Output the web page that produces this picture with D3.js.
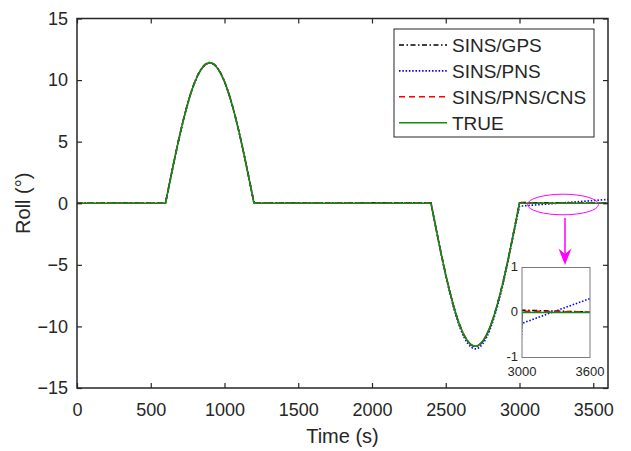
<!DOCTYPE html>
<html>
<head>
<meta charset="utf-8">
<script src="https://cdn.jsdelivr.net/npm/d3@7"></script>
<style>
  body { margin: 0; background: #fff; }
  svg text { font-family: "Liberation Sans", Arial, sans-serif; fill: #262626; }
</style>
</head>
<body>
<div id="root"></div>
<script>
// time samples (s) shared by all series
var time = [0,
  600, 650, 700, 750, 800, 850, 900, 950, 1000, 1050, 1100, 1150, 1200,
  2400, 2450, 2500, 2550, 2600, 2650, 2700, 2750, 2800, 2850, 2900, 2950, 3000,
  3600];

// roll (deg)
var trueRoll = [0,
  0, 2.95, 5.70, 8.06, 9.87, 11.01, 11.40, 11.01, 9.87, 8.06, 5.70, 2.95, 0,
  0, -3.00, -5.80, -8.20, -10.05, -11.20, -11.60, -11.20, -10.05, -8.20, -5.80, -3.00, 0,
  0];
var gpsRoll = [0.02,
  0.02, 2.97, 5.72, 8.08, 9.90, 11.03, 11.43, 11.03, 9.88, 8.07, 5.71, 2.96, 0.02,
  0.03, -2.98, -5.79, -8.20, -10.06, -11.22, -11.63, -11.22, -10.06, -8.20, -5.79, -2.97, 0.05,
  0.01];
var pnsRoll = [0,
  0, 2.90, 5.65, 8.02, 9.84, 10.98, 11.37, 10.99, 9.85, 8.05, 5.69, 2.95, 0.02,
  0.02, -3.05, -5.90, -8.33, -10.22, -11.40, -11.82, -11.42, -10.25, -8.38, -5.95, -3.10, -0.24,
  0.31];
var cnsRoll = [0.01,
  0.01, 2.96, 5.71, 8.07, 9.88, 11.02, 11.42, 11.02, 9.88, 8.07, 5.71, 2.96, 0.01,
  0.02, -2.99, -5.80, -8.21, -10.06, -11.21, -11.62, -11.21, -10.06, -8.21, -5.80, -2.99, 0.03,
  0.01];

var seriesNames = ["SINS/GPS", "SINS/PNS", "SINS/PNS/CNS", "TRUE"];
var seriesVals = [gpsRoll, pnsRoll, cnsRoll, trueRoll];
var seriesColors = ["#000000", "#0000ff", "#ff0000", "#108c10"];
var seriesDash = ["5,2.5,1.5,2.5", "1.5,1.8", "6,4", null];

var xTicks = [0, 500, 1000, 1500, 2000, 2500, 3000, 3500];
var yTicks = [-15, -10, -5, 0, 5, 10, 15];
var insetXTicks = [3000, 3600];
var insetYTicks = [-1, 0, 1];

var width = 631, height = 451;
var plotL = 77, plotR = 608, plotT = 18.5, plotB = 388;

var svg = d3.select("#root").append("svg")
  .attr("width", width)
  .attr("height", height);

var x = d3.scaleLinear().domain([0, 3600]).range([plotL, plotR]);
var y = d3.scaleLinear().domain([-15, 15]).range([plotB, plotT]);

// flat parts are straight, manoeuvres are smooth arcs
var segs = [[0, 1, "lin"], [1, 13, "nat"], [13, 14, "lin"], [14, 26, "nat"], [26, 27, "lin"]];
function pathFor(vals, xs, ys) {
  var d = "";
  segs.forEach(function(s, i) {
    var pts = d3.range(s[0], s[1] + 1).map(function(j) { return [xs(time[j]), ys(vals[j])]; });
    var p = d3.line().curve(s[2] == "nat" ? d3.curveNatural : d3.curveLinear)(pts);
    d += i == 0 ? p : "L" + p.slice(1);
  });
  return d;
}

function drawSeries(g, xs, ys) {
  seriesVals.forEach(function(v, i) {
    g.append("path")
      .attr("d", pathFor(v, xs, ys))
      .attr("fill", "none")
      .attr("stroke", seriesColors[i])
      .attr("stroke-width", 1.6)
      .attr("stroke-dasharray", seriesDash[i]);
  });
}

svg.append("clipPath").attr("id", "mainClip")
  .append("rect").attr("x", plotL).attr("y", plotT).attr("width", plotR - plotL).attr("height", plotB - plotT);
drawSeries(svg.append("g").attr("clip-path", "url(#mainClip)"), x, y);

// axes
var axisColor = "#262626";
function styleAxis(g) {
  g.select(".domain").remove();
  g.selectAll("line").attr("stroke", axisColor).attr("stroke-width", 1.2);
  g.selectAll("text").attr("font-size", 18).attr("fill", axisColor)
    .style("font-family", "'Liberation Sans', Arial, sans-serif");
}
svg.append("g").attr("transform", "translate(0," + plotB + ")")
  .call(d3.axisBottom(x).tickValues(xTicks).tickSize(-5).tickPadding(15).tickFormat(d3.format("d")))
  .call(styleAxis);
svg.append("g").attr("transform", "translate(0," + plotT + ")")
  .call(d3.axisTop(x).tickValues(xTicks).tickSize(-5).tickFormat(""))
  .call(styleAxis);
svg.append("g").attr("transform", "translate(" + plotL + ",0)")
  .call(d3.axisLeft(y).tickValues(yTicks).tickSize(-5).tickPadding(9).tickFormat(d3.format("d")))
  .call(styleAxis);
svg.append("g").attr("transform", "translate(" + plotR + ",0)")
  .call(d3.axisRight(y).tickValues(yTicks).tickSize(-5).tickFormat(""))
  .call(styleAxis);

svg.append("rect")
  .attr("x", plotL).attr("y", plotT)
  .attr("width", plotR - plotL).attr("height", plotB - plotT)
  .attr("fill", "none").attr("stroke", axisColor).attr("stroke-width", 1.5);

svg.append("text")
  .attr("x", (plotL + plotR) / 2).attr("y", 443)
  .attr("text-anchor", "middle").attr("font-size", 20)
  .text("Time (s)");
svg.append("text")
  .attr("transform", "translate(30," + y(0) + ") rotate(-90)")
  .attr("text-anchor", "middle").attr("font-size", 20)
  .text("Roll (°)");

// legend
var leg = svg.append("g");
leg.append("rect")
  .attr("x", 394).attr("y", 29).attr("width", 200).attr("height", 108)
  .attr("fill", "#fff").attr("stroke", axisColor).attr("stroke-width", 1);
seriesNames.forEach(function(name, i) {
  var cy = 45 + i * 25.9;
  leg.append("line")
    .attr("x1", 399).attr("x2", 447).attr("y1", cy).attr("y2", cy)
    .attr("stroke", seriesColors[i]).attr("stroke-width", 1.6)
    .attr("stroke-dasharray", seriesDash[i]);
  leg.append("text")
    .attr("x", 452).attr("y", cy + 6.8)
    .attr("font-size", 19)
    .text(name);
});

// zoom marker
var mag = "#ff00ff";
svg.append("ellipse")
  .attr("cx", 563).attr("cy", 204.5).attr("rx", 35.5).attr("ry", 10.3)
  .attr("fill", "none").attr("stroke", mag).attr("stroke-width", 1);
svg.append("line")
  .attr("x1", 565).attr("x2", 565).attr("y1", 218).attr("y2", 254)
  .attr("stroke", mag).attr("stroke-width", 1.5);
svg.append("path")
  .attr("d", "M565,265L558.5,248.5L565,254L571.5,248.5Z")
  .attr("fill", mag);

// inset
var ix = d3.scaleLinear().domain([3000, 3600]).range([522, 590]);
var iy = d3.scaleLinear().domain([-1, 1]).range([357.5, 267.5]);
var inset = svg.append("g");
inset.append("rect")
  .attr("x", 522).attr("y", 267.5).attr("width", 68).attr("height", 90)
  .attr("fill", "#fff");
svg.append("clipPath").attr("id", "insetClip")
  .append("rect").attr("x", 522).attr("y", 267.5).attr("width", 68).attr("height", 90);
drawSeries(inset.append("g").attr("clip-path", "url(#insetClip)"), ix, iy);
inset.append("rect")
  .attr("x", 522).attr("y", 267.5).attr("width", 68).attr("height", 90)
  .attr("fill", "none").attr("stroke", "#7a7a7a").attr("stroke-width", 1);
inset.selectAll(".iyl").data(insetYTicks).enter().append("text")
  .attr("x", 518).attr("y", function(d) { return iy(d) + 3.5; })
  .attr("text-anchor", "end").attr("font-size", 13).attr("fill", "#404040")
  .text(function(d) { return d; });
inset.selectAll(".ixl").data(insetXTicks).enter().append("text")
  .attr("x", function(d) { return ix(d); }).attr("y", 376)
  .attr("text-anchor", "middle").attr("font-size", 13).attr("fill", "#404040")
  .text(function(d) { return d; });
</script>
</body>
</html>
